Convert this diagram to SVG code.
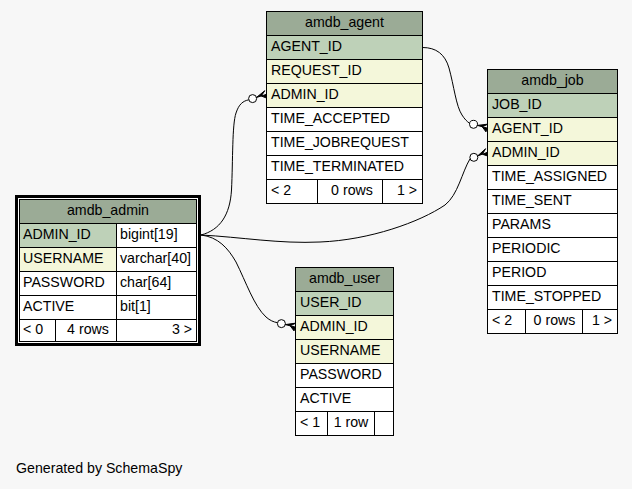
<svg xmlns="http://www.w3.org/2000/svg" width="632" height="489" viewBox="0 0 632 489">
<style>
text{font-family:"Liberation Sans",Arial,Helvetica,sans-serif;font-size:14.2px;fill:#000}
.c{text-anchor:middle}
.r{text-anchor:end}
.hd{fill:#9bab96;stroke:#000;stroke-width:1}
.pk{fill:#bed1b8;stroke:#000;stroke-width:1}
.fk{fill:#f4f7da;stroke:#000;stroke-width:1}
.cl{fill:#fff;stroke:#000;stroke-width:1}
.ln{stroke:#000;stroke-width:1;fill:none}
.edge{fill:none;stroke:#000;stroke-width:1}
.dot{fill:#fff;stroke:#000;stroke-width:1}
.crow{fill:#000;stroke:#000;stroke-width:1;stroke-linejoin:miter}
</style>
<rect x="0" y="0" width="632" height="489" fill="#f7f7f7"/>

<g id="connectors">
  <!-- admin.ADMIN_ID -> agent.ADMIN_ID -->
  <path class="edge" d="M201,235 C220,230 230,215 231.5,190 C233,160 232,125 236,113 C239,104 243,101 248.8,99.8"/>
  <circle class="dot" cx="252.6" cy="98.6" r="4"/>
  <path class="crow" d="M256.45,97.46 L264.8,90.7 L261.2,96 Z M261.2,96 L266,94.5 L267.2,98.3 Z"/>

  <!-- agent.AGENT_ID -> job.AGENT_ID -->
  <path class="edge" d="M422.5,47.5 C436,47.5 445,54 449,68 C454,86 456,106 462,115 C464.5,119 467,121.5 469.6,123.3"/>
  <circle class="dot" cx="473.5" cy="124.35" r="4"/>
  <path class="crow" d="M477.35,125.39 L488.04,124.14 L482.17,126.69 Z M482.17,126.69 L487,128 L485.96,131.86 Z"/>

  <!-- admin.ADMIN_ID -> job.ADMIN_ID -->
  <path class="edge" d="M201,235 C240,237 280,244 320,242 C370,240 420,222 445,205 C458,195 462,172 470.1,158.7"/>
  <circle class="dot" cx="473.85" cy="157.32" r="4"/>
  <path class="crow" d="M477.61,155.94 L485.62,148.74 L482.3,154.22 Z M482.3,154.22 L487,152.5 L488.38,156.26 Z"/>

  <!-- admin.ADMIN_ID -> user.ADMIN_ID -->
  <path class="edge" d="M201,235 C218,237 228,248 236,262 C246,282 254,306 266,317 C270,320.5 273.5,322 277.5,322.7"/>
  <circle class="dot" cx="281.4" cy="323.64" r="4"/>
  <path class="crow" d="M285.29,324.6 L295.96,323.12 L290.15,325.8 Z M290.15,325.8 L295,327 L294.04,330.88 Z"/>
</g>

<g id="amdb_agent">
  <rect class="hd" x="266.5" y="11.5" width="156" height="24"/>
  <rect class="pk" x="266.5" y="35.5" width="156" height="24"/>
  <rect class="fk" x="266.5" y="59.5" width="156" height="24"/>
  <rect class="fk" x="266.5" y="83.5" width="156" height="24"/>
  <rect class="cl" x="266.5" y="107.5" width="156" height="24"/>
  <rect class="cl" x="266.5" y="131.5" width="156" height="24"/>
  <rect class="cl" x="266.5" y="155.5" width="156" height="24"/>
  <rect class="cl" x="266.5" y="179.5" width="156" height="24"/>
  <path class="ln" d="M317.5,179.5V203.5M382.5,179.5V203.5"/>
  <text class="c" x="344.5" y="27">amdb_agent</text>
  <text x="271" y="51">AGENT_ID</text>
  <text x="271" y="75">REQUEST_ID</text>
  <text x="271" y="99">ADMIN_ID</text>
  <text x="271" y="123">TIME_ACCEPTED</text>
  <text x="271" y="147">TIME_JOBREQUEST</text>
  <text x="271" y="171">TIME_TERMINATED</text>
  <text x="271" y="195">&lt; 2</text>
  <text class="c" x="352" y="195">0 rows</text>
  <text class="r" x="417" y="195">1 &gt;</text>
</g>

<g id="amdb_job">
  <rect class="hd" x="487.5" y="69.5" width="130" height="24"/>
  <rect class="pk" x="487.5" y="93.5" width="130" height="24"/>
  <rect class="fk" x="487.5" y="117.5" width="130" height="24"/>
  <rect class="fk" x="487.5" y="141.5" width="130" height="24"/>
  <rect class="cl" x="487.5" y="165.5" width="130" height="24"/>
  <rect class="cl" x="487.5" y="189.5" width="130" height="24"/>
  <rect class="cl" x="487.5" y="213.5" width="130" height="24"/>
  <rect class="cl" x="487.5" y="237.5" width="130" height="24"/>
  <rect class="cl" x="487.5" y="261.5" width="130" height="24"/>
  <rect class="cl" x="487.5" y="285.5" width="130" height="24"/>
  <rect class="cl" x="487.5" y="309.5" width="130" height="24"/>
  <path class="ln" d="M525.5,309.5V333.5M582.5,309.5V333.5"/>
  <text class="c" x="552.5" y="85">amdb_job</text>
  <text x="492" y="109">JOB_ID</text>
  <text x="492" y="133">AGENT_ID</text>
  <text x="492" y="157">ADMIN_ID</text>
  <text x="492" y="181">TIME_ASSIGNED</text>
  <text x="492" y="205">TIME_SENT</text>
  <text x="492" y="229">PARAMS</text>
  <text x="492" y="253">PERIODIC</text>
  <text x="492" y="277">PERIOD</text>
  <text x="492" y="301">TIME_STOPPED</text>
  <text x="492" y="325">&lt; 2</text>
  <text class="c" x="554.5" y="325">0 rows</text>
  <text class="r" x="612" y="325">1 &gt;</text>
</g>

<g id="amdb_user">
  <rect class="hd" x="295.5" y="267.5" width="98" height="24"/>
  <rect class="pk" x="295.5" y="291.5" width="98" height="24"/>
  <rect class="fk" x="295.5" y="315.5" width="98" height="24"/>
  <rect class="fk" x="295.5" y="339.5" width="98" height="24"/>
  <rect class="cl" x="295.5" y="363.5" width="98" height="24"/>
  <rect class="cl" x="295.5" y="387.5" width="98" height="24"/>
  <rect class="cl" x="295.5" y="411.5" width="98" height="24"/>
  <path class="ln" d="M327.5,411.5V435.5M374.5,411.5V435.5"/>
  <text class="c" x="344.5" y="283">amdb_user</text>
  <text x="300" y="307">USER_ID</text>
  <text x="300" y="331">ADMIN_ID</text>
  <text x="300" y="355">USERNAME</text>
  <text x="300" y="379">PASSWORD</text>
  <text x="300" y="403">ACTIVE</text>
  <text x="300" y="427">&lt; 1</text>
  <text class="c" x="351" y="427">1 row</text>
</g>

<g id="amdb_admin">
  <rect x="16.5" y="196.5" width="183" height="148" fill="#fff" stroke="#000" stroke-width="3"/>
  <rect class="hd" x="19.5" y="199.5" width="177" height="24"/>
  <rect class="pk" x="19.5" y="223.5" width="97" height="24"/>
  <rect class="cl" x="116.5" y="223.5" width="80" height="24"/>
  <rect class="fk" x="19.5" y="247.5" width="97" height="24"/>
  <rect class="cl" x="116.5" y="247.5" width="80" height="24"/>
  <rect class="cl" x="19.5" y="271.5" width="97" height="24"/>
  <rect class="cl" x="116.5" y="271.5" width="80" height="24"/>
  <rect class="cl" x="19.5" y="295.5" width="97" height="24"/>
  <rect class="cl" x="116.5" y="295.5" width="80" height="24"/>
  <rect class="cl" x="19.5" y="319.5" width="177" height="22"/>
  <path class="ln" d="M55.5,319.5V341.5M116.5,319.5V341.5"/>
  <text class="c" x="108" y="215">amdb_admin</text>
  <text x="23" y="239">ADMIN_ID</text>
  <text x="120" y="239">bigint[19]</text>
  <text x="23" y="263">USERNAME</text>
  <text x="120" y="263">varchar[40]</text>
  <text x="23" y="287">PASSWORD</text>
  <text x="120" y="287">char[64]</text>
  <text x="23" y="311">ACTIVE</text>
  <text x="120" y="311">bit[1]</text>
  <text x="23" y="334">&lt; 0</text>
  <text class="c" x="88" y="334">4 rows</text>
  <text class="r" x="192" y="334">3 &gt;</text>
</g>

<text x="16" y="473">Generated by SchemaSpy</text>
</svg>
